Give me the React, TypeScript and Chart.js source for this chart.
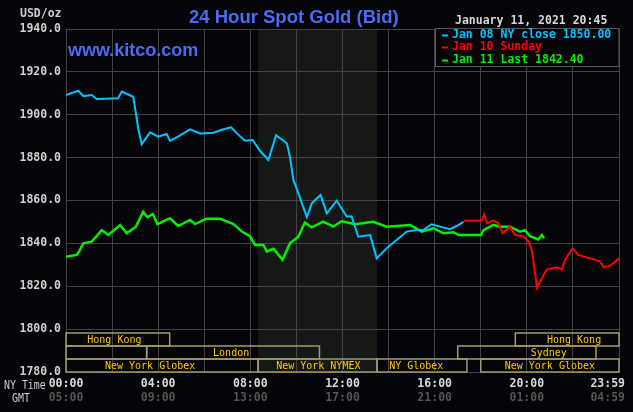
import React, { useEffect, useRef } from 'react';
import { Chart, registerables } from 'chart.js';

Chart.register(...registerables);

// ---- data (x = minutes after 00:00 NY time) ----
const jan08Times = [0, 32, 45, 67, 80, 136, 145, 175, 182, 188, 197, 219, 240, 262, 271, 288, 323, 349, 384, 410, 430, 445, 466, 486, 505, 527, 547, 575, 583, 592, 605, 627, 640, 663, 679, 705, 731, 744, 761, 792, 809, 835, 861, 887, 913, 930, 952, 974, 1000, 1017, 1035];
const jan08Values = [1909.2, 1911.2, 1908.7, 1909.2, 1907.3, 1907.7, 1910.8, 1908.4, 1900.7, 1893.7, 1886.2, 1891.8, 1889.8, 1891.0, 1887.8, 1889.5, 1893.2, 1891.3, 1891.6, 1893.2, 1894.1, 1891.3, 1887.9, 1888.2, 1883.2, 1878.9, 1890.5, 1886.7, 1880.5, 1869.6, 1863.4, 1852.3, 1858.7, 1862.6, 1854.0, 1859.9, 1852.5, 1852.5, 1843.1, 1843.9, 1833.0, 1837.7, 1841.6, 1845.5, 1846.2, 1846.2, 1848.9, 1847.8, 1846.6, 1848.1, 1850.0];

const jan10Times = [1035, 1082, 1089, 1096, 1113, 1126, 1137, 1156, 1169, 1191, 1204, 1213, 1224, 1226, 1239, 1252, 1278, 1291, 1299, 1319, 1334, 1365, 1391, 1399, 1417, 1440];
const jan10Values = [1850.5, 1850.5, 1853.4, 1849.4, 1850.6, 1849.4, 1844.7, 1847.8, 1843.9, 1843.4, 1840.8, 1836.9, 1822.9, 1819.3, 1823.7, 1827.9, 1828.9, 1827.9, 1832.2, 1837.7, 1834.6, 1833.0, 1831.5, 1828.9, 1829.5, 1833.0];

const jan11Times = [0, 28, 35, 45, 67, 93, 110, 141, 158, 182, 201, 212, 226, 238, 271, 292, 323, 336, 366, 401, 436, 458, 479, 492, 514, 523, 540, 564, 583, 605, 622, 640, 670, 696, 718, 753, 800, 835, 896, 926, 957, 983, 1009, 1022, 1081, 1087, 1113, 1130, 1156, 1182, 1195, 1208, 1230, 1239, 1245];
const jan11Values = [1833.8, 1834.6, 1836.5, 1840.0, 1840.8, 1846.2, 1843.9, 1848.6, 1844.7, 1847.8, 1854.8, 1852.2, 1853.7, 1849.0, 1851.7, 1848.1, 1850.9, 1849.0, 1851.5, 1851.5, 1849.0, 1845.5, 1843.4, 1839.3, 1839.3, 1836.2, 1837.5, 1832.3, 1840.0, 1843.1, 1849.7, 1847.5, 1850.1, 1847.8, 1850.3, 1848.9, 1850.1, 1847.8, 1848.6, 1845.5, 1847.0, 1844.7, 1845.2, 1843.9, 1843.9, 1846.2, 1848.6, 1847.8, 1847.8, 1845.5, 1846.2, 1843.4, 1841.8, 1843.9, 1842.4];

const seriesLabels = ['Jan 08 NY close 1850.00', 'Jan 10 Sunday', 'Jan 11 Last 1842.40'];

const gridMinutes = [0, 120, 240, 360, 480, 600, 720, 840, 960, 1080, 1200, 1320, 1440];
const xTickMinutes = [0, 240, 480, 720, 960, 1200, 1440];
const nyTickLabels = ['00:00', '04:00', '08:00', '12:00', '16:00', '20:00', '23:59'];
const gmtTickLabels = ['05:00', '09:00', '13:00', '17:00', '21:00', '01:00', '04:59'];

const nymexShade = [500, 810];

const sessionLabels = ['Hong Kong', 'Hong Kong', '', 'London', 'Sydney', 'New York Globex', 'New York NYMEX', 'NY Globex', 'New York Globex'];
const sessionRows = [0, 0, 1, 1, 1, 2, 2, 2, 2];
const sessionStarts = [0, 1170, 0, 210, 1020, 0, 500, 810, 1080];
const sessionEnds = [270, 1440, 210, 660, 1380, 500, 810, 1044, 1440];
const sessionLabelAt = [126, 1323, 0, 430, 1257, 219, 657, 912, 1260];

const titleText = '24 Hour Spot Gold (Bid)';
const siteText = 'www.kitco.com';
const dateText = 'January 11, 2021 20:45';
const unitText = 'USD/oz';

const MONO = '"DejaVu Sans Mono", "Liberation Mono", monospace';
const BG = '#050408';

const toPoints = (xs: number[], ys: number[]) => xs.map((x, i) => ({ x, y: ys[i] }));

const kitcoPlugin = {
  id: 'kitco',
  beforeDraw(chart: any) {
    const { ctx, chartArea: a, scales } = chart;
    const x = scales.x;
    ctx.save();
    ctx.fillStyle = BG;
    ctx.fillRect(0, 0, chart.width, chart.height);
    const x0 = x.getPixelForValue(nymexShade[0]);
    const x1 = x.getPixelForValue(nymexShade[1]);
    ctx.fillStyle = '#161816';
    ctx.fillRect(x0, a.top, x1 - x0, a.bottom - a.top);
    ctx.restore();
  },
  afterDraw(chart: any) {
    const { ctx, chartArea: a, scales } = chart;
    const x = scales.x;
    ctx.save();

    // session bars
    const rowH = 13;
    ctx.lineWidth = 1.5;
    ctx.strokeStyle = '#a09c6c';
    ctx.font = `10px ${MONO}`;
    ctx.textAlign = 'center';
    ctx.textBaseline = 'middle';
    sessionLabels.forEach((lab, i) => {
      const x0 = x.getPixelForValue(sessionStarts[i]);
      const x1 = x.getPixelForValue(sessionEnds[i]);
      const top = a.bottom - (3 - sessionRows[i]) * rowH;
      ctx.strokeRect(x0, top, x1 - x0, rowH);
      if (lab) {
        ctx.fillStyle = '#ffc800';
        ctx.fillText(lab, x.getPixelForValue(sessionLabelAt[i]), top + rowH / 2 + 0.5);
      }
    });

    // x tick labels (NY time + GMT)
    ctx.font = `bold 11.5px ${MONO}`;
    xTickMinutes.forEach((m, i) => {
      const px = x.getPixelForValue(m);
      const w = ctx.measureText(nyTickLabels[i]).width;
      const cx = Math.min(px, chart.width - 8 - w / 2);
      ctx.fillStyle = '#d8d8d8';
      ctx.fillText(nyTickLabels[i], cx, 384);
      ctx.fillStyle = '#555555';
      ctx.fillText(gmtTickLabels[i], cx, 398.5);
    });
    ctx.textAlign = 'left';
    ctx.font = `11px ${MONO}`;
    ctx.fillStyle = '#cccccc';
    ctx.save();
    ctx.translate(4, 386);
    ctx.scale(0.9, 1.05);
    ctx.fillText('NY Time', 0, 0);
    ctx.restore();
    ctx.save();
    ctx.translate(12, 398.5);
    ctx.scale(0.9, 1.05);
    ctx.fillText('GMT', 0, 0);
    ctx.restore();

    // unit label
    ctx.textAlign = 'right';
    ctx.font = `bold 11.5px ${MONO}`;
    ctx.fillStyle = '#cccccc';
    ctx.fillText(unitText, 61.5, 14);

    // title & site
    ctx.textAlign = 'left';
    ctx.textBaseline = 'alphabetic';
    ctx.fillStyle = '#4a6cf4';
    ctx.font = 'bold 18.5px "Liberation Sans", Arial, sans-serif';
    ctx.fillText(titleText, 189, 23);
    ctx.font = 'bold 18px "Liberation Sans", Arial, sans-serif';
    ctx.fillText(siteText, 68, 56);

    // date
    ctx.textBaseline = 'middle';
    ctx.font = `bold 11.5px ${MONO}`;
    ctx.fillStyle = '#d8d8d8';
    ctx.fillText(dateText, 455, 21);

    // legend box
    const lx = 435.5, ly = 28.5, lw = a.right - 435.5, lh = 38;
    ctx.fillStyle = BG;
    ctx.fillRect(lx, ly, lw, lh);
    ctx.strokeStyle = '#5a5a5a';
    ctx.lineWidth = 1;
    ctx.strokeRect(lx, ly, lw, lh);
    const rowsY = [35.5, 47.5, 60.5];
    chart.data.datasets.forEach((ds: any, i: number) => {
      ctx.fillStyle = ds.borderColor;
      ctx.fillRect(442, rowsY[i] - 1, 6, 2);
      ctx.fillText(ds.label, 452, rowsY[i]);
    });

    ctx.restore();
  },
};

export default function App() {
  const ref = useRef<HTMLCanvasElement | null>(null);

  useEffect(() => {
    const canvas = ref.current;
    if (!canvas) return;
    const gridColor = '#444444';
    const chart = new Chart(canvas, {
      type: 'line',
      data: {
        datasets: [
          {
            label: seriesLabels[0],
            data: toPoints(jan08Times, jan08Values),
            borderColor: '#00c4ff',
            borderWidth: 2,
            pointRadius: 0,
            tension: 0,
            order: 1,
          },
          {
            label: seriesLabels[1],
            data: toPoints(jan10Times, jan10Values),
            borderColor: '#ff0000',
            borderWidth: 2,
            pointRadius: 0,
            tension: 0,
            order: 0,
          },
          {
            label: seriesLabels[2],
            data: toPoints(jan11Times, jan11Values),
            borderColor: '#00f000',
            borderWidth: 2.5,
            pointRadius: 0,
            tension: 0,
            order: 2,
          },
        ],
      },
      options: {
        animation: false,
        responsive: false,
        maintainAspectRatio: false,
        devicePixelRatio: 1,
        layout: { padding: { left: 0, right: 14, top: 29, bottom: 40 } },
        plugins: {
          legend: { display: false },
          title: { display: false },
          tooltip: { enabled: false },
        },
        scales: {
          x: {
            type: 'linear',
            min: 0,
            max: 1440,
            afterBuildTicks: (s: any) => {
              s.ticks = gridMinutes.map((v) => ({ value: v }));
            },
            ticks: { display: false },
            grid: { color: gridColor, drawTicks: false, lineWidth: 1 },
            border: { display: false },
          },
          y: {
            type: 'linear',
            min: 1780,
            max: 1940,
            ticks: {
              stepSize: 20,
              padding: 5,
              color: '#d0d0d0',
              font: { family: MONO, size: 11.5, weight: 'bold' },
              callback: (v: any) => Number(v).toFixed(1),
            },
            grid: { color: gridColor, drawTicks: false, lineWidth: 1 },
            border: { display: false },
            afterFit: (s: any) => {
              s.width = 66;
            },
          },
        },
      },
      plugins: [kitcoPlugin],
    } as any);
    return () => chart.destroy();
  }, []);

  return (
    <div style={{ position: 'fixed', left: 0, top: 0, width: 633, height: 412, background: BG }}>
      <canvas ref={ref} width={633} height={412} style={{ display: 'block', width: 633, height: 412 }} />
    </div>
  );
}
